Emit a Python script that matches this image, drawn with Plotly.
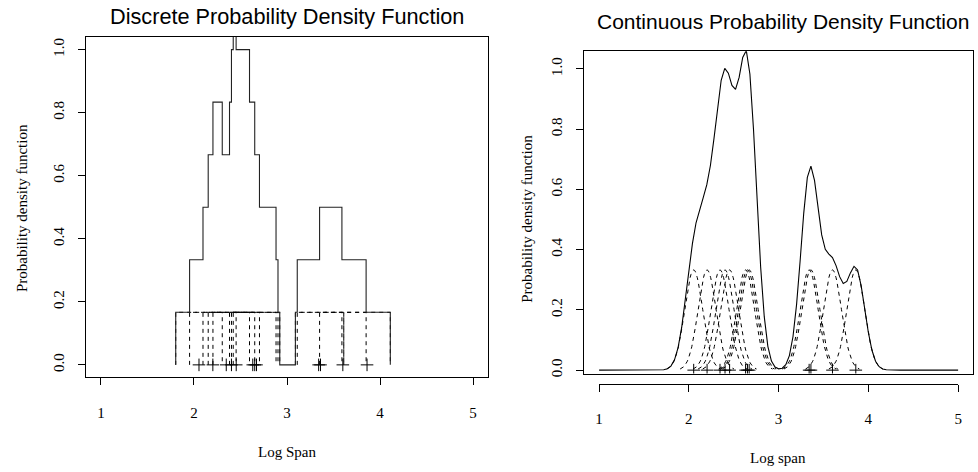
import numpy as np
import plotly.graph_objects as go

# ---- data ----
log_span = [2.054, 2.203, 2.347, 2.403, 2.454, 2.632, 2.653, 2.672,
            3.34, 3.36, 3.60, 3.86]
box_half_width = 0.25      # uniform (discrete) kernel half width
kde_bandwidth = 0.10       # gaussian kernel sd
x_ticks = [1, 2, 3, 4, 5]
y_ticks = [0.0, 0.2, 0.4, 0.6, 0.8, 1.0]
y_ticktext = ["0.0", "0.2", "0.4", "0.6", "0.8", "1.0"]

W, H = 978, 472
n = len(log_span)
pts = np.array(log_span)
box_h = 1.0 / (n * 2 * box_half_width)

def px(v):
    return v / W

def py(v):
    return 1 - v / H

fig = go.Figure()
BLACK = "black"
DASH = "4px,4px"

# ---- left: discrete pdf ----
for xi in pts:
    l, r = xi - box_half_width, xi + box_half_width
    fig.add_trace(go.Scatter(x=[l, l, r, r], y=[0, box_h, box_h, 0], mode="lines",
                             line=dict(color=BLACK, width=1, dash=DASH),
                             xaxis="x", yaxis="y", showlegend=False, hoverinfo="skip"))

edges = np.unique(np.round(np.concatenate([pts - box_half_width, pts + box_half_width]), 6))
levels = [np.sum((pts - box_half_width <= e + 1e-9) & (pts + box_half_width > e + 1e-9)) * box_h for e in edges]
fig.add_trace(go.Scatter(x=[edges[0]] + list(edges), y=[0] + levels, mode="lines",
                         line=dict(color="#222222", width=1.1, shape="hv"),
                         xaxis="x", yaxis="y", showlegend=False, hoverinfo="skip"))
fig.add_trace(go.Scatter(x=pts, y=np.zeros(n), mode="markers",
                         marker=dict(symbol="cross-thin", size=9, line=dict(color=BLACK, width=1)),
                         xaxis="x", yaxis="y", showlegend=False, hoverinfo="skip"))

# ---- right: continuous pdf ----
def comp(xi, xs):
    return np.exp(-0.5 * ((xs - xi) / kde_bandwidth) ** 2) / (n * kde_bandwidth * np.sqrt(2 * np.pi))

for xi in pts:
    xs = np.linspace(xi - 3 * kde_bandwidth, xi + 3 * kde_bandwidth, 61)
    fig.add_trace(go.Scatter(x=xs, y=comp(xi, xs), mode="lines",
                             line=dict(color=BLACK, width=1, dash=DASH),
                             xaxis="x2", yaxis="y2", showlegend=False, hoverinfo="skip"))

grid = np.linspace(x_ticks[0], x_ticks[-1], 101)
dens = sum(comp(xi, grid) for xi in pts)
fig.add_trace(go.Scatter(x=grid, y=dens, mode="lines", line=dict(color=BLACK, width=1.1),
                         xaxis="x2", yaxis="y2", showlegend=False, hoverinfo="skip"))
fig.add_trace(go.Scatter(x=pts, y=np.zeros(n), mode="markers",
                         marker=dict(symbol="cross-thin", size=9, line=dict(color=BLACK, width=1)),
                         xaxis="x3", yaxis="y2", showlegend=False, hoverinfo="skip"))

tickfont = dict(family="Liberation Serif", size=15, color=BLACK)
common = dict(showgrid=False, zeroline=False, showline=True, linecolor=BLACK, linewidth=1,
              ticks="outside", ticklen=7, tickcolor=BLACK, tickwidth=1, tickfont=tickfont)

fig.update_layout(
    width=W, height=H, margin=dict(l=0, r=0, t=0, b=0),
    paper_bgcolor="white", plot_bgcolor="rgba(0,0,0,0)",
    xaxis=dict(domain=[px(82.7), px(488)], range=[0.84, 5.16], anchor="y", mirror=True,
               tickvals=x_ticks, ticklabelstandoff=15, **common),
    yaxis=dict(domain=[py(380.7), py(37.3)], range=[-0.04, 1.04], anchor="x", mirror=True,
               tickvals=y_ticks, ticktext=y_ticktext, tickangle=-90, ticklabelstandoff=8, **common),
    xaxis2=dict(domain=[px(585), px(977)], range=[0.834, 5.166], anchor="y2", mirror=True,
                showgrid=False, zeroline=False, showline=True, linecolor=BLACK, linewidth=1,
                ticks="", showticklabels=False),
    yaxis2=dict(domain=[py(376.7), py(51.7)], range=[-0.0112, 1.058], anchor="x2", mirror=True,
                tickvals=y_ticks, ticktext=y_ticktext, tickangle=-90, ticklabelstandoff=8, **common),
    xaxis3=dict(domain=[px(600), px(962)], range=[1, 5], anchor="free", position=py(387),
                tickvals=x_ticks, ticklabelstandoff=14, **common),
)

label_font = dict(family="Liberation Serif", size=15, color=BLACK)
annots = [
    dict(text="Discrete Probability Density Function", x=px(285), y=py(17),
         font=dict(family="Liberation Sans", size=21.7, color=BLACK)),
    dict(text="Continuous Probability Density Function", x=px(785), y=py(22),
         font=dict(family="Liberation Sans", size=21, color=BLACK)),
    dict(text="Log Span", x=px(285), y=py(456), font=label_font),
    dict(text="Log span", x=px(780), y=py(462), font=label_font),
    dict(text="Probability density function", x=px(18), y=py(210), font=label_font, textangle=-90),
    dict(text="Probability density function", x=px(527), y=py(221), font=label_font, textangle=-90),
]
for a in annots:
    fig.add_annotation(xref="paper", yref="paper", xanchor="center", yanchor="middle",
                       showarrow=False, **a)

fig.write_html("out.html", config={"displayModeBar": False},
               post_script="document.body.style.margin='0';document.body.style.padding='0';")
